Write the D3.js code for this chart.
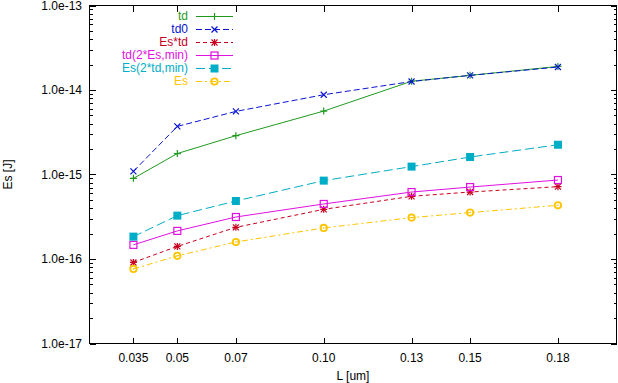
<!DOCTYPE html>
<html><head><meta charset="utf-8">
<script src="https://cdn.jsdelivr.net/npm/d3@7"></script>
<style>
html,body{margin:0;padding:0;background:#fff;}
svg text{font-family:"Liberation Sans",Arial,Helvetica,sans-serif;}
</style></head>
<body>
<svg id="c" width="618" height="383"></svg>
<script>
const L = [0.035, 0.05, 0.07, 0.10, 0.13, 0.15, 0.18];
const xTickLabels = ["0.035","0.05","0.07","0.10","0.13","0.15","0.18"];
const yTicks = [1e-17, 1e-16, 1e-15, 1e-14, 1e-13];
const yTickLabels = ["1.0e-17","1.0e-16","1.0e-15","1.0e-14","1.0e-13"];
const seriesNames = ["td","td0","Es*td","td(2*Es,min)","Es(2*td,min)","Es"];
const td      = [9.0e-16, 1.77e-15, 2.88e-15, 5.63e-15, 1.27e-14, 1.49e-14, 1.90e-14];
const td0     = [1.09e-15, 3.71e-15, 5.58e-15, 8.79e-15, 1.26e-14, 1.49e-14, 1.87e-14];
const EsTd    = [9.1e-17, 1.41e-16, 2.37e-16, 3.87e-16, 5.52e-16, 6.2e-16, 7.18e-16];
const td2Es   = [1.47e-16, 2.15e-16, 3.14e-16, 4.48e-16, 6.2e-16, 7.1e-16, 8.6e-16];
const Es2td   = [1.84e-16, 3.26e-16, 4.86e-16, 8.46e-16, 1.24e-15, 1.61e-15, 2.25e-15];
const Es      = [7.62e-17, 1.09e-16, 1.59e-16, 2.33e-16, 3.09e-16, 3.54e-16, 4.32e-16];

const seriesValues = [td, td0, EsTd, td2Es, Es2td, Es];
const colors = ["#1f9a1f","#0a14d2","#c8001e","#e010e0","#00adc6","#ffc400"];
const dashes = [null, "6,3", "4,3", null, "9,4", "6,3,2,3"];
const markers = ["plus","cross","star","square","fsquare","circle"];

const svg = d3.select("#c");
const pL = 89.5, pR = 616.5, pT = 5.5, pB = 343.5;
const x = d3.scaleLinear().domain([0.02, 0.2]).range([pL, pR]);
const y = d3.scaleLog().domain([1e-17, 1e-13]).range([pB, pT]);

const minor = [];
for (let e = -17; e < -13; e++) for (let m = 2; m < 10; m++) minor.push(m * Math.pow(10, e));

const g = svg.append("g").attr("shape-rendering","crispEdges").attr("stroke","#000").attr("stroke-width",1);
g.append("rect").attr("x",pL).attr("y",pT).attr("width",pR-pL).attr("height",pB-pT).attr("fill","none");
L.forEach(v=>{
  const xx = Math.round(x(v))+0.5;
  g.append("line").attr("x1",xx).attr("x2",xx).attr("y1",pB).attr("y2",pB-6);
  g.append("line").attr("x1",xx).attr("x2",xx).attr("y1",pT).attr("y2",pT+6);
});
yTicks.forEach(v=>{
  const yy = Math.round(y(v))+0.5;
  g.append("line").attr("x1",pL).attr("x2",pL+6).attr("y1",yy).attr("y2",yy);
  g.append("line").attr("x1",pR).attr("x2",pR-6).attr("y1",yy).attr("y2",yy);
});
minor.forEach(v=>{
  const yy = Math.round(y(v))+0.5;
  g.append("line").attr("x1",pL).attr("x2",pL+3).attr("y1",yy).attr("y2",yy);
  g.append("line").attr("x1",pR).attr("x2",pR-3).attr("y1",yy).attr("y2",yy);
});

const fs = 12;
L.forEach((v,i)=>{
  svg.append("text").attr("x",x(v)).attr("y",362).attr("text-anchor","middle").attr("font-size",fs).text(xTickLabels[i]);
});
yTicks.forEach((v,i)=>{
  svg.append("text").attr("x",82).attr("y",y(v)+4).attr("text-anchor","end").attr("font-size",fs).text(yTickLabels[i]);
});
svg.append("text").attr("x",(pL+pR)/2).attr("y",380).attr("text-anchor","middle").attr("font-size",fs).text("L [um]");
svg.append("text").attr("transform",`translate(12,${(pT+pB)/2}) rotate(-90)`).attr("text-anchor","middle").attr("font-size",fs).text("Es [J]");

function drawMarker(sel, type, cx, cy, color){
  const s = 3.5;
  if (type==="plus" || type==="star"){
    sel.append("path").attr("d",`M${cx-s},${cy}H${cx+s}M${cx},${cy-s}V${cy+s}`).attr("stroke",color).attr("stroke-width",1.2).attr("fill","none");
  }
  if (type==="cross" || type==="star"){
    const t = 3;
    sel.append("path").attr("d",`M${cx-t},${cy-t}L${cx+t},${cy+t}M${cx-t},${cy+t}L${cx+t},${cy-t}`).attr("stroke",color).attr("stroke-width",1.2).attr("fill","none");
  }
  if (type==="square"){
    sel.append("rect").attr("x",cx-3.5).attr("y",cy-3.5).attr("width",7).attr("height",7).attr("fill","none").attr("stroke",color).attr("stroke-width",1.2);
  }
  if (type==="fsquare"){
    sel.append("rect").attr("x",cx-4).attr("y",cy-4).attr("width",8).attr("height",8).attr("fill",color);
  }
  if (type==="circle"){
    sel.append("circle").attr("cx",cx).attr("cy",cy).attr("r",3.2).attr("fill","none").attr("stroke",color).attr("stroke-width",1.8);
    sel.append("circle").attr("cx",cx).attr("cy",cy).attr("r",0.8).attr("fill",color);
  }
}

const line = d3.line().x((d,i)=>x(L[i])).y(d=>y(d));
seriesValues.forEach((vals,k)=>{
  const p = svg.append("path").datum(vals).attr("d",line).attr("fill","none").attr("stroke",colors[k]).attr("stroke-width",1);
  if (dashes[k]) p.attr("stroke-dasharray",dashes[k]);
  const mg = svg.append("g");
  vals.forEach((v,i)=>drawMarker(mg, markers[k], x(L[i]), y(v), colors[k]));
});

seriesNames.forEach((n,k)=>{
  const yy = 16 + k*13;
  svg.append("text").attr("x",188).attr("y",yy+4).attr("text-anchor","end").attr("font-size",fs).attr("fill",colors[k]).text(n);
  const p = svg.append("line").attr("x1",196).attr("x2",233).attr("y1",yy+0.5).attr("y2",yy+0.5).attr("stroke",colors[k]).attr("stroke-width",1);
  if (dashes[k]) p.attr("stroke-dasharray",dashes[k]);
  drawMarker(svg, markers[k], 214.5, yy+0.5, colors[k]);
});
</script>
</body></html>
